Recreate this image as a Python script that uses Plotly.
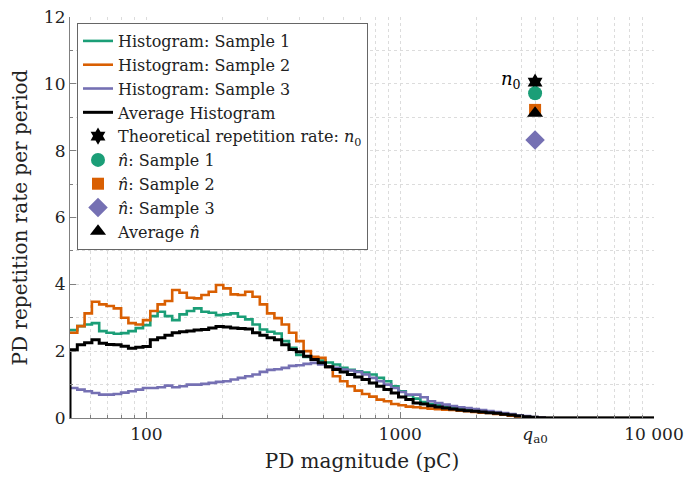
import numpy as np
import plotly.graph_objects as go

# ---------------- data ----------------
x_min_pc = 50
x_max_pc = 10000
n_bins = 80
q_a0 = 3400  # pC

sample1 = [2.63, 2.75, 2.80, 2.84, 2.60, 2.55, 2.52, 2.54, 2.60, 2.69,
           2.78, 3.05, 3.18, 3.05, 2.93, 3.10, 3.20, 3.28, 3.18, 3.15,
           3.08, 3.10, 3.13, 3.03, 2.95, 2.80, 2.65, 2.58, 2.53, 2.30,
           2.10, 1.89, 1.83, 1.80, 1.72, 1.66, 1.60, 1.50, 1.44, 1.40,
           1.36, 1.30, 1.20, 1.10, 0.95, 0.80, 0.68, 0.58, 0.48, 0.42,
           0.38, 0.35, 0.33, 0.30, 0.27, 0.24, 0.20, 0.18, 0.15, 0.12,
           0.09, 0.07, 0.04, 0.02, 0.01, 0, 0, 0, 0, 0,
           0, 0, 0, 0, 0, 0, 0, 0, 0, 0]
sample2 = [2.55, 2.75, 3.13, 3.48, 3.40, 3.35, 3.28, 3.00, 2.84, 2.80,
           2.93, 3.20, 3.40, 3.50, 3.83, 3.75, 3.60, 3.58, 3.68, 3.78,
           3.98, 3.88, 3.70, 3.68, 3.78, 3.63, 3.40, 3.13, 2.99, 2.80,
           2.55, 2.30, 2.00, 1.83, 1.80, 1.53, 1.25, 1.10, 0.95, 0.82,
           0.72, 0.64, 0.55, 0.50, 0.42, 0.38, 0.34, 0.32, 0.30, 0.28,
           0.26, 0.25, 0.24, 0.22, 0.20, 0.18, 0.16, 0.15, 0.12, 0.10,
           0.07, 0.05, 0.03, 0.02, 0.01, 0, 0, 0, 0, 0,
           0, 0, 0, 0, 0, 0, 0, 0, 0, 0]
sample3 = [0.90, 0.85, 0.80, 0.75, 0.70, 0.70, 0.72, 0.76, 0.80, 0.85,
           0.90, 0.90, 0.92, 0.97, 0.92, 0.95, 1.00, 1.00, 1.02, 1.05,
           1.08, 1.10, 1.15, 1.20, 1.25, 1.30, 1.38, 1.44, 1.46, 1.50,
           1.56, 1.58, 1.62, 1.65, 1.60, 1.53, 1.50, 1.45, 1.42, 1.38,
           1.30, 1.20, 1.10, 1.00, 0.90, 0.78, 0.70, 0.70, 0.62, 0.50,
           0.45, 0.40, 0.36, 0.32, 0.30, 0.27, 0.24, 0.21, 0.18, 0.15,
           0.12, 0.08, 0.06, 0.03, 0.01, 0, 0, 0, 0, 0,
           0, 0, 0, 0, 0, 0, 0, 0, 0, 0]
average = [2.04, 2.19, 2.25, 2.34, 2.24, 2.20, 2.19, 2.15, 2.09, 2.12,
           2.14, 2.34, 2.40, 2.48, 2.55, 2.58, 2.60, 2.63, 2.65, 2.69,
           2.74, 2.72, 2.69, 2.68, 2.66, 2.55, 2.48, 2.40, 2.34, 2.19,
           2.05, 1.98, 1.85, 1.75, 1.65, 1.53, 1.45, 1.38, 1.30, 1.23,
           1.15, 1.05, 0.95, 0.85, 0.75, 0.63, 0.55, 0.45, 0.42, 0.37,
           0.33, 0.30, 0.27, 0.24, 0.22, 0.20, 0.18, 0.16, 0.14, 0.11,
           0.09, 0.06, 0.04, 0.02, 0.01, 0, 0, 0, 0, 0,
           0, 0, 0, 0, 0, 0, 0, 0, 0, 0]

n0 = 10.05
n_hat_1 = 9.72
n_hat_2 = 9.22
n_hat_3 = 8.32
n_hat_avg = 9.12

x_tickvals = [100, 1000, q_a0, 10000]
x_ticktext = ["100", "1000", "<i>q</i><sub>a0</sub>", "10 000"]
x_minor = [60, 70, 80, 90, 200, 300, 400, 500, 600, 700, 800, 900,
           2000, 3000, 4000, 5000, 6000, 7000, 8000, 9000]

# ---------------- styling ----------------
GREEN = "#1b9e77"
ORANGE = "#d95f02"
PURPLE = "#7570b3"
FONT = "DejaVu Serif"

edges = np.logspace(np.log10(x_min_pc), np.log10(x_max_pc), n_bins + 1)


def step_xy(vals, from_zero=False):
    xs = list(edges)
    ys = list(vals) + [vals[-1]]
    if from_zero:
        xs = [edges[0]] + xs
        ys = [0] + ys
    return xs, ys


fig = go.Figure()
for name, vals, col, w, z in [
    ("Histogram: Sample 1", sample1, GREEN, 2.6, False),
    ("Histogram: Sample 2", sample2, ORANGE, 2.6, False),
    ("Histogram: Sample 3", sample3, PURPLE, 2.6, False),
    ("Average Histogram", average, "black", 3.0, True),
]:
    xs, ys = step_xy(vals, z)
    fig.add_trace(go.Scatter(x=xs, y=ys, mode="lines", name=name,
                             line=dict(color=col, width=w, shape="hv")))

for name, val, sym, col, size in [
    ("Theoretical repetition rate: <i>n</i><sub>0</sub>", n0, "hexagram", "black", 13),
    ("<i>n̂</i>: Sample 1", n_hat_1, "circle", GREEN, 14),
    ("<i>n̂</i>: Sample 2", n_hat_2, "square", ORANGE, 12),
    ("<i>n̂</i>: Sample 3", n_hat_3, "diamond", PURPLE, 15),
    ("Average <i>n̂</i>", n_hat_avg, "triangle-up", "black", 14),
]:
    fig.add_trace(go.Scatter(x=[q_a0], y=[val], mode="markers", name=name,
                             marker=dict(symbol=sym, color=col, size=size,
                                         line=dict(width=0))))

fig.add_annotation(x=np.log10(q_a0), y=n0, xref="x", yref="y",
                   text="<i>n</i><sub>0</sub>", showarrow=False,
                   xanchor="right", xshift=-12, yshift=2,
                   font=dict(family=FONT, size=18, color="black"))

axis_common = dict(
    showline=True, linecolor="#808080", linewidth=1.2,
    ticks="inside", ticklen=6, tickcolor="#808080",
    showgrid=True, gridcolor="#dcdcdc", griddash="dot", gridwidth=1,
    zeroline=False, mirror=False, automargin=False,
    tickfont=dict(family=FONT, size=17, color="#222"),
)

fig.update_xaxes(
    type="log", range=[np.log10(x_min_pc), np.log10(x_max_pc)],
    tickmode="array", tickvals=x_tickvals, ticktext=x_ticktext,
    title=dict(text="PD magnitude (pC)", font=dict(family=FONT, size=20, color="#222"), standoff=8),
    minor=dict(tickmode="array", tickvals=x_minor, ticks="inside", ticklen=3,
               tickcolor="#808080", showgrid=True, gridcolor="#dcdcdc", griddash="dot"),
    **axis_common,
)
fig.update_yaxes(
    range=[0, 12], tickmode="array", tickvals=[0, 2, 4, 6, 8, 10, 12],
    title=dict(text="PD repetition rate per period", font=dict(family=FONT, size=20, color="#222"), standoff=10),
    minor=dict(tickmode="array", tickvals=[1, 3, 5, 7, 9, 11], ticks="inside", ticklen=3,
               tickcolor="#808080", showgrid=True, gridcolor="#dcdcdc", griddash="dot"),
    **axis_common,
)

fig.update_layout(
    width=688, height=481,
    margin=dict(l=70, r=34, t=17, b=63),
    plot_bgcolor="white", paper_bgcolor="white",
    font=dict(family=FONT, color="#222"),
    showlegend=True,
    legend=dict(x=0.012, y=0.985, xanchor="left", yanchor="top",
                bgcolor="white", bordercolor="#666", borderwidth=1,
                font=dict(family=FONT, size=16, color="#222"),
                itemwidth=30, tracegroupgap=0),
)

fig.write_html("out.html")
